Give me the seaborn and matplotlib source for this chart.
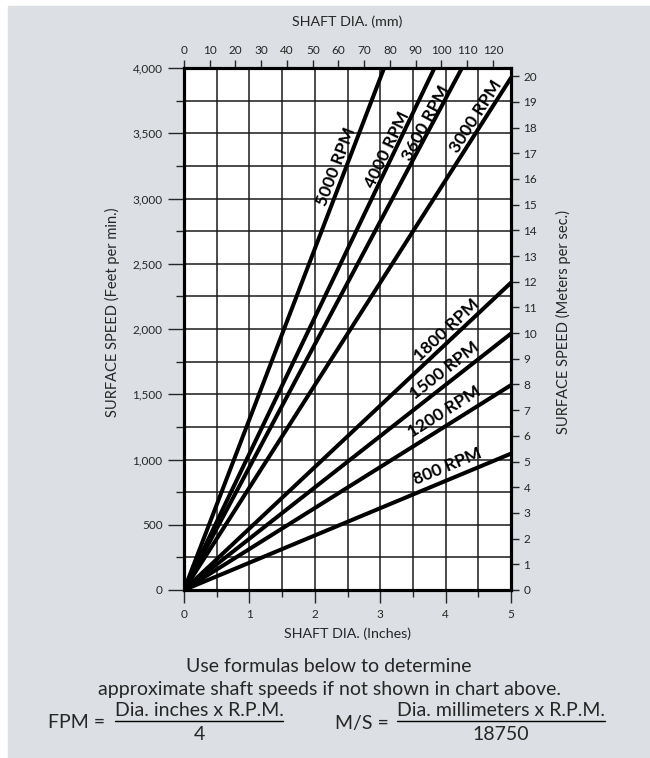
import numpy as np
import pandas as pd
import seaborn as sns
import matplotlib.pyplot as plt
from matplotlib.lines import Line2D
from matplotlib.patches import Rectangle

# Shaft speed lines: each runs from the origin to where it leaves the chart
rpm = [5000, 4000, 3600, 3000, 1800, 1500, 1200, 800]
end_in = [3.06, 3.83, 4.25, 5.0, 5.0, 5.0, 5.0, 5.0]
end_fpm = [4000, 4000, 4000, 3925, 2355, 1965, 1570, 1045]
label_in = [2.46, 3.21, 3.78, 4.58, 4.12, 4.10, 4.09, 4.10]
label_off = [7, 5, 4.6, 6.1, 7, 8.6, 9.2, 9]

inch_ticks = [0, 1, 2, 3, 4, 5]
fpm_ticks = [0, 500, 1000, 1500, 2000, 2500, 3000, 3500, 4000]
mm_ticks = [0, 10, 20, 30, 40, 50, 60, 70, 80, 90, 100, 110, 120]
ms_ticks = list(range(0, 21))

sns.set_style('ticks')
plt.rcParams['font.family'] = ['Lato', 'DejaVu Sans']

W, H = 650, 758


def fx(px):
    return px / W


def fy(py):
    return 1 - py / H


df = pd.DataFrame({
    'rpm': np.repeat(rpm, 2),
    'inches': np.ravel(np.column_stack([np.zeros(len(rpm)), end_in])),
    'fpm': np.ravel(np.column_stack([np.zeros(len(rpm)), end_fpm])),
})

fig = plt.figure(figsize=(6.5, 7.58), dpi=100)
fig.patch.set_facecolor('white')
fig.add_artist(Rectangle((fx(8), 0), fx(642), 752 / H, transform=fig.transFigure,
                         color='#dcdfe3', zorder=-5))

ax = fig.add_axes([fx(184), fy(590), fx(327), 522 / H])
ax.set_facecolor('white')
ax.set_axisbelow(True)

sns.lineplot(data=df, x='inches', y='fpm', units='rpm', estimator=None,
             sort=False, color='black', lw=2.9, ax=ax)

ax.set_xlim(0, 5)
ax.set_ylim(0, 4000)
ax.set_xticks(inch_ticks)
ax.set_xticks(np.arange(0, 5.01, 0.5), minor=True)
ax.set_yticks(fpm_ticks)
ax.set_yticklabels([f'{v:,}' for v in fpm_ticks])
ax.set_yticks(np.arange(0, 4001, 250), minor=True)
ax.grid(which='both', color='#1a1a1a', lw=1.1)
ax.tick_params(which='major', axis='x', length=9.5, width=1, pad=4, labelsize=8.5)
ax.tick_params(which='minor', axis='x', length=5, width=1)
ax.tick_params(which='major', axis='y', length=11.5, width=1, pad=4, labelsize=8.5)
ax.tick_params(which='minor', axis='y', length=6, width=1)

ax.set_xlabel('SHAFT DIA. (Inches)', fontsize=10.3)
ax.set_ylabel('SURFACE SPEED (Feet per min.)', fontsize=10.5)
ax.xaxis.set_label_coords(0.5, (590 - 634) / 522)
ax.xaxis.label.set_va('center')
ax.yaxis.set_label_coords((112 - 184) / 327, (590 - 312) / 522)
ax.yaxis.label.set_va('center')

ax_r = ax.twinx()
ax_r.set_ylim(0, 4000 / 196.85)
ax_r.set_yticks(ms_ticks)
ax_r.tick_params(axis='y', length=6, width=1, pad=3, labelsize=8.5)
ax_r.set_ylabel('SURFACE SPEED (Meters per sec.)', fontsize=10.5, rotation=90)
ax_r.yaxis.set_label_coords((563 - 184) / 327, (590 - 322) / 522)
ax_r.yaxis.label.set_va('center')

ax_t = ax.twiny()
ax_t.set_xlim(0, 127)
ax_t.set_xticks(mm_ticks)
ax_t.tick_params(axis='x', length=6, width=1, pad=3, labelsize=8.5)
ax_t.set_xlabel('SHAFT DIA. (mm)', fontsize=10.3)
ax_t.xaxis.set_label_coords(0.5, (590 - 22) / 522)
ax_t.xaxis.label.set_va('center')

for a in (ax, ax_r, ax_t):
    for s in a.spines.values():
        s.set_visible(True)
        s.set_linewidth(2.2)
        s.set_color('black')

# Speed labels along each line
for r, ex, ey, lx, off in zip(rpm, end_in, end_fpm, label_in, label_off):
    p0 = ax.transData.transform((0, 0))
    p1 = ax.transData.transform((ex, ey))
    ang = np.arctan2(p1[1] - p0[1], p1[0] - p0[0])
    ax.annotate(f'{r} RPM', xy=(lx, ey / ex * lx),
                xytext=(-np.sin(ang) * off, np.cos(ang) * off),
                textcoords='offset points', rotation=np.degrees(ang),
                rotation_mode='anchor', ha='center', va='center',
                fontsize=12.5, fontweight='bold', color='black')

# Notes and formulas
fig.text(fx(329), fy(666), 'Use formulas below to determine',
         ha='center', va='center', fontsize=14)
fig.text(fx(329), fy(689), 'approximate shaft speeds if not shown in chart above.',
         ha='center', va='center', fontsize=14)

fig.text(fx(105), fy(723), 'FPM =', ha='right', va='center', fontsize=14)
num1 = fig.text(fx(199), fy(710), 'Dia. inches x R.P.M.', ha='center', va='center', fontsize=14)
fig.text(fx(199), fy(735), '4', ha='center', va='center', fontsize=14)

fig.text(fx(389), fy(723), 'M/S =', ha='right', va='center', fontsize=14)
num2 = fig.text(fx(501), fy(710), 'Dia. millimeters x R.P.M.', ha='center', va='center', fontsize=14)
fig.text(fx(501), fy(735), '18750', ha='center', va='center', fontsize=14)

fig.canvas.draw()
for t in (num1, num2):
    bb = t.get_window_extent()
    fig.add_artist(Line2D([bb.x0 / W, bb.x1 / W], [fy(721), fy(721)],
                          transform=fig.transFigure, color='black', lw=1.0))

fig.savefig('out.png', dpi=100)
